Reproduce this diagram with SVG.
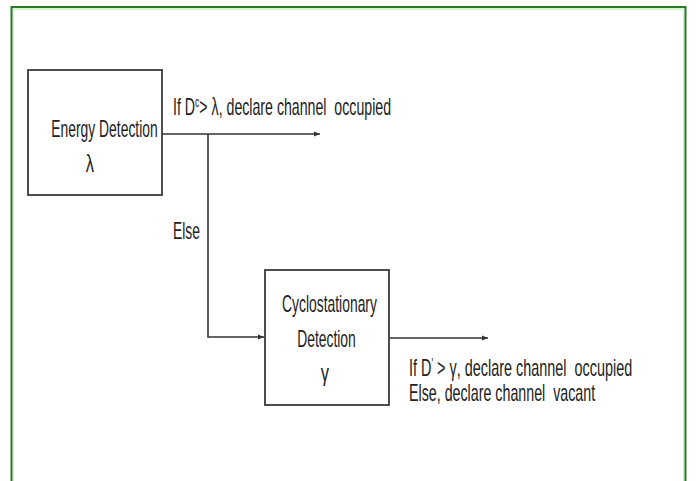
<svg xmlns="http://www.w3.org/2000/svg" width="699" height="481" viewBox="0 0 699 481">
  <defs>
    <style>
      .t { font-family: "Liberation Sans", Arial, sans-serif; font-size: 23px; fill: #222; white-space: pre; }
      .m { text-anchor: middle; }
      .sup { font-size: 14px; }
      .box { fill: #fff; stroke: #3a3a3a; stroke-width: 1.8; }
      .conn { fill: none; stroke: #333; stroke-width: 1.6; }
    </style>
    <marker id="arr" viewBox="0 0 10 10" refX="10" refY="5" markerWidth="6" markerHeight="6" markerUnits="userSpaceOnUse" orient="auto">
      <path d="M0,1 L10,5 L0,9 z" fill="#333"/>
    </marker>
  </defs>

  <rect x="0" y="0" width="699" height="481" fill="#fff"/>
  <g id="frame">
    <path d="M13,481 V9 H684 V481" fill="none" stroke="#d6f5cf" stroke-width="2"/>
    <path d="M11.5,481 V7 H685.5 V481" fill="none" stroke="#2a7a2a" stroke-width="2"/>
  </g>

  <g id="connectors">
    <line class="conn" x1="162" y1="134" x2="320" y2="134" marker-end="url(#arr)"/>
    <polyline class="conn" points="208,134 208,337 264,337" marker-end="url(#arr)"/>
    <line class="conn" x1="389" y1="338" x2="488" y2="338" marker-end="url(#arr)"/>
  </g>

  <g id="energy-detection">
    <rect class="box" x="28" y="70" width="134" height="125"/>
    <text class="t m" transform="translate(104.5,137) scale(0.603,1)">Energy Detection</text>
    <text class="t m" transform="translate(90,172) scale(0.72,1)">λ</text>
  </g>

  <g id="cyclostationary-detection">
    <rect class="box" x="265" y="270" width="124" height="135"/>
    <text class="t m" transform="translate(329.5,312) scale(0.603,1)">Cyclostationary</text>
    <text class="t m" transform="translate(326.5,347) scale(0.603,1)">Detection</text>
    <text class="t m" transform="translate(325,381) scale(0.72,1)">γ</text>
  </g>

  <g id="labels">
    <text class="t" xml:space="preserve" transform="translate(173,115) scale(0.616,1)">If D<tspan class="sup" dy="-8">c</tspan><tspan dy="8">&gt; λ, declare channel  occupied</tspan></text>
    <text class="t" transform="translate(173,239) scale(0.603,1)">Else</text>
    <text class="t" xml:space="preserve" transform="translate(409,376) scale(0.627,1)">If D<tspan class="sup" dy="-8">'</tspan><tspan dy="8"> &gt; γ, declare channel  occupied</tspan></text>
    <text class="t" xml:space="preserve" transform="translate(409,401) scale(0.62,1)">Else, declare channel  vacant</text>
  </g>
</svg>
